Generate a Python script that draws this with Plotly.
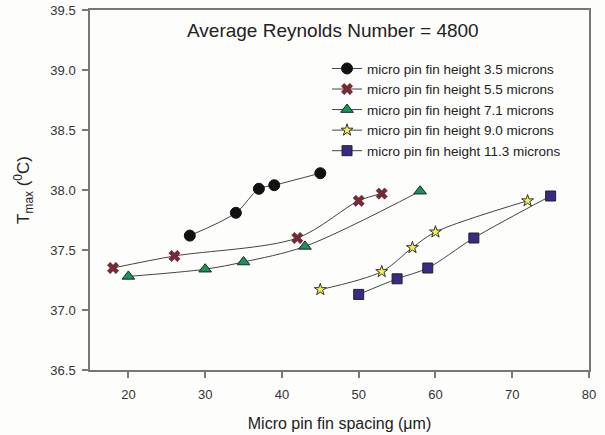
import plotly.graph_objects as go

# Data
x_35 = [28, 34, 37, 39, 45]
y_35 = [37.62, 37.81, 38.01, 38.04, 38.14]
x_55 = [18, 26, 42, 50, 53]
y_55 = [37.35, 37.45, 37.60, 37.91, 37.97]
x_71 = [20, 30, 35, 43, 58]
y_71 = [37.28, 37.34, 37.40, 37.53, 37.99]
x_90 = [45, 53, 57, 60, 72]
y_90 = [37.17, 37.32, 37.52, 37.65, 37.91]
x_113 = [50, 55, 59, 65, 75]
y_113 = [37.13, 37.26, 37.35, 37.60, 37.95]

names = [
    "micro pin fin height 3.5 microns",
    "micro pin fin height 5.5 microns",
    "micro pin fin height 7.1 microns",
    "micro pin fin height 9.0 microns",
    "micro pin fin height 11.3 microns",
]

styles = [
    dict(symbol="circle", size=11, color="#111111", line=dict(color="#111111", width=1)),
    dict(symbol="x", size=10, color="#7a2838", line=dict(color="#4a1a24", width=0.5)),
    dict(symbol="triangle-up", size=11, color="#16955a", line=dict(color="#222222", width=1)),
    dict(symbol="star", size=9, color="#f2ef55", line=dict(color="#333333", width=1)),
    dict(symbol="square", size=10, color="#382a86", line=dict(color="#222222", width=1)),
]

series = [(x_35, y_35), (x_55, y_55), (x_71, y_71), (x_90, y_90), (x_113, y_113)]

fig = go.Figure()
for (xs, ys), nm, st in zip(series, names, styles):
    fig.add_trace(go.Scatter(
        x=xs, y=ys, name=nm, mode="lines+markers",
        line=dict(color="#444444", width=1, shape="spline", smoothing=0.9),
        marker=st,
    ))

axis_common = dict(
    showline=True, linecolor="#777777", linewidth=1.5, mirror=True,
    ticks="outside", ticklen=6, tickcolor="#777777", tickwidth=1.5,
    showgrid=False, zeroline=False, automargin=False,
    tickfont=dict(family="Liberation Sans, Arial", size=13, color="#333333"),
)

fig.update_layout(
    width=605, height=435,
    margin=dict(l=90, r=16, t=10, b=65),
    paper_bgcolor="#fdfdfb", plot_bgcolor="#fdfdfb",
    font=dict(family="Liberation Sans, Arial", color="#222222"),
    xaxis=dict(range=[15, 80], tickvals=[20, 30, 40, 50, 60, 70, 80],
               ticklabelstandoff=6,
               title=dict(text="Micro pin fin spacing (\u03bcm)", font=dict(size=16, color="#222222"), standoff=16),
               **axis_common),
    yaxis=dict(range=[36.5, 39.5], tickvals=[36.5, 37.0, 37.5, 38.0, 38.5, 39.0, 39.5],
               tickformat=".1f", ticklabelstandoff=4,
               title=dict(text="T<sub>max</sub> (<sup>0</sup>C)", font=dict(size=17, color="#222222"), standoff=16),
               **axis_common),
    legend=dict(x=0.475, y=0.88, xanchor="left", yanchor="top",
                bgcolor="rgba(0,0,0,0)", font=dict(size=13.5, color="#222222"),
                tracegroupgap=0, itemwidth=30),
    showlegend=True,
    annotations=[dict(text="Average Reynolds Number = 4800", x=0.487, y=(370 - 30) / 360,
                      xref="paper", yref="paper", yanchor="middle",
                      showarrow=False, font=dict(size=19, color="#222222"))],
)

fig.write_html("out.html")
